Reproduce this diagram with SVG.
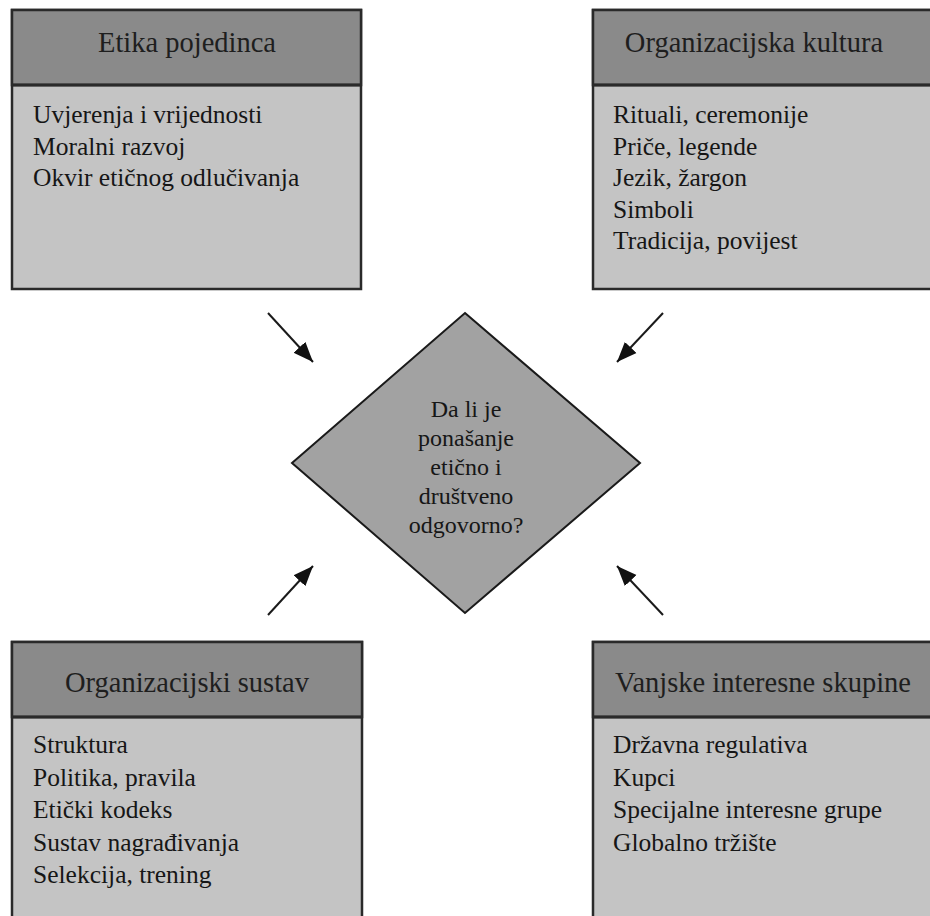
<svg xmlns="http://www.w3.org/2000/svg" width="930" height="916" viewBox="0 0 930 916">
<defs>
<style>
.hdr{fill:#8a8a8a;stroke:#2a2a2a;stroke-width:2.5}
.body{fill:#c4c4c4;stroke:#2a2a2a;stroke-width:2.5}
.sep{stroke:#2a2a2a;stroke-width:3}
.ht{font-family:"Liberation Serif","Times New Roman",serif;font-size:28.5px;fill:#1e1e1e;text-anchor:middle}
.bt{font-family:"Liberation Serif","Times New Roman",serif;font-size:25.5px;fill:#161616}
.dt{font-family:"Liberation Serif","Times New Roman",serif;font-size:24px;fill:#161616;text-anchor:middle}
.conn{stroke:#1a1a1a;stroke-width:2;fill:none;marker-end:url(#ah)}
</style>
<marker id="ah" markerUnits="userSpaceOnUse" markerWidth="22" markerHeight="18" refX="20" refY="9" orient="auto">
<path d="M0,1 L20,9 L0,17 Z" fill="#111"/>
</marker>
</defs>
<rect width="930" height="916" fill="#fff"/>

<g id="etika-pojedinca">
<rect class="body" x="12" y="10" width="349" height="279"/>
<rect class="hdr" x="12" y="10" width="349" height="75"/>
<line class="sep" x1="12" y1="85" x2="361" y2="85"/>
<text class="ht" x="187" y="52">Etika pojedinca</text>
<text class="bt" x="33" y="123">Uvjerenja i vrijednosti</text>
<text class="bt" x="33" y="154.5">Moralni razvoj</text>
<text class="bt" x="33" y="186">Okvir etičnog odlučivanja</text>
</g>

<g id="organizacijska-kultura">
<rect class="body" x="593" y="10" width="352" height="279"/>
<rect class="hdr" x="593" y="10" width="352" height="75"/>
<line class="sep" x1="593" y1="85" x2="945" y2="85"/>
<text class="ht" x="754" y="52">Organizacijska kultura</text>
<text class="bt" x="613" y="123">Rituali, ceremonije</text>
<text class="bt" x="613" y="154.5">Priče, legende</text>
<text class="bt" x="613" y="186">Jezik, žargon</text>
<text class="bt" x="613" y="217.5">Simboli</text>
<text class="bt" x="613" y="249">Tradicija, povijest</text>
</g>

<g id="organizacijski-sustav">
<rect class="body" x="12" y="642" width="350" height="290"/>
<rect class="hdr" x="12" y="642" width="350" height="75"/>
<line class="sep" x1="12" y1="717" x2="362" y2="717"/>
<text class="ht" x="187" y="692">Organizacijski sustav</text>
<text class="bt" x="33" y="753">Struktura</text>
<text class="bt" x="33" y="785.5">Politika, pravila</text>
<text class="bt" x="33" y="818">Etički kodeks</text>
<text class="bt" x="33" y="850.5">Sustav nagrađivanja</text>
<text class="bt" x="33" y="883">Selekcija, trening</text>
</g>

<g id="vanjske-interesne-skupine">
<rect class="body" x="593" y="642" width="352" height="290"/>
<rect class="hdr" x="593" y="642" width="352" height="75"/>
<line class="sep" x1="593" y1="717" x2="945" y2="717"/>
<text class="ht" x="763" y="692">Vanjske interesne skupine</text>
<text class="bt" x="613" y="753">Državna regulativa</text>
<text class="bt" x="613" y="785.5">Kupci</text>
<text class="bt" x="613" y="818">Specijalne interesne grupe</text>
<text class="bt" x="613" y="850.5">Globalno tržište</text>
</g>

<g id="odluka">
<polygon points="465,313 640,463 465,613 292,463" fill="#a2a2a2" stroke="#1a1a1a" stroke-width="2"/>
<text class="dt" x="466" y="417">Da li je</text>
<text class="dt" x="466" y="446">ponašanje</text>
<text class="dt" x="466" y="475">etično i</text>
<text class="dt" x="466" y="504">društveno</text>
<text class="dt" x="466" y="533">odgovorno?</text>
</g>

<g id="connectors">
<line class="conn" x1="268" y1="313" x2="313" y2="362"/>
<line class="conn" x1="663" y1="313" x2="617" y2="362"/>
<line class="conn" x1="268" y1="615" x2="313" y2="566"/>
<line class="conn" x1="663" y1="615" x2="617" y2="566"/>
</g>
</svg>
